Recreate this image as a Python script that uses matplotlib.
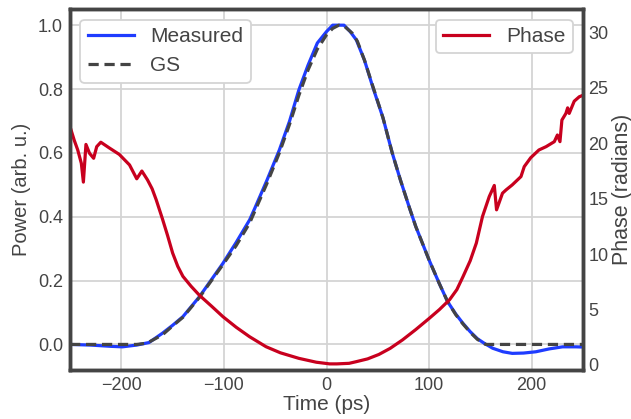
import matplotlib
matplotlib.use('Agg')
import matplotlib.pyplot as plt

# measured pulse power
time_meas = [-250, -230, -210, -199, -185, -173, -160, -150, -140, -124, -101, -88, -75, -70,
             -58, -46, -36, -27, -18, -9, 0, 6, 11, 17, 23, 29, 37, 45, 55, 64, 72, 81, 87,
             100, 110, 118, 126, 133, 140, 147, 154, 162, 172, 181, 192, 204, 217, 230, 243, 248]
power_meas = [0.0, -0.002, -0.006, -0.0075, -0.002, 0.006, 0.035, 0.06, 0.087, 0.149, 0.254, 0.32,
              0.39, 0.426, 0.515, 0.609, 0.70, 0.797, 0.875, 0.944, 0.98, 1.0, 1.0, 1.0, 0.98,
              0.954, 0.89, 0.807, 0.71, 0.60, 0.515, 0.426, 0.369, 0.264, 0.19, 0.134, 0.095,
              0.066, 0.04, 0.018, 0.003, -0.012, -0.023, -0.028, -0.027, -0.023, -0.014,
              -0.0075, -0.0075, -0.008]

# GS retrieval
time_gs = [-250, -185, -175, -160, -150, -140, -124, -101, -88, -75, -58, -46, -36, -27, -18,
           -9, 0, 6, 12, 18, 25, 30, 37, 45, 55, 64, 72, 81, 87, 100, 110, 118, 126, 133, 140,
           147, 155, 250]
power_gs = [0.0, 0.0, 0.004, 0.03, 0.058, 0.085, 0.147, 0.25, 0.31, 0.38, 0.505, 0.60, 0.69,
            0.78, 0.86, 0.925, 0.97, 0.99, 1.0, 0.995, 0.975, 0.95, 0.89, 0.81, 0.71, 0.60,
            0.515, 0.426, 0.369, 0.264, 0.19, 0.134, 0.093, 0.064, 0.038, 0.016, 0.0, 0.0]

# phase
time_phase = [-249, -246, -242.5, -239, -237, -234.5, -231, -227, -224, -220, -212, -202, -192,
              -185, -180, -174.5, -170, -166, -160, -155, -150, -145, -140, -132, -124, -112,
              -101, -88, -75, -59, -45, -27, -10, 3, 10, 22, 29, 40, 51, 62, 74, 87, 100, 110,
              120, 127, 133, 140, 146, 152, 158.6, 163.5, 165.7, 171.5, 175, 181, 189.5,
              192.7, 199, 207, 214, 222, 225, 227.5, 229.4, 233.3, 235, 236.5, 241.4, 246.3, 249]
phase = [21.2, 20.3, 19.4, 18.2, 16.5, 19.9, 19.1, 18.65, 19.7, 20.1, 19.6, 19.0, 18.05, 16.8,
         17.5, 16.7, 15.9, 14.9, 13.2, 11.7, 10.1, 8.9, 8.0, 7.1, 6.3, 5.3, 4.36, 3.4, 2.55, 1.65,
         1.1, 0.6, 0.25, 0.1, 0.1, 0.15, 0.3, 0.55, 0.95, 1.5, 2.26, 3.2, 4.2, 5.0, 5.9, 6.8,
         7.97, 9.4, 11.0, 13.4, 15.2, 16.2, 14.0, 15.5, 15.8, 16.25, 17.0, 17.9, 18.7,
         19.4, 19.7, 20.15, 20.75, 20.15, 22.1, 22.7, 23.2, 22.7, 23.8, 24.2, 24.3]

txt = '#444444'
plt.rcParams['font.family'] = ['Liberation Sans', 'DejaVu Sans']
plt.rcParams['text.color'] = txt
plt.rcParams['axes.labelcolor'] = txt
plt.rcParams['xtick.color'] = txt
plt.rcParams['ytick.color'] = txt

fig = plt.figure(figsize=(6.31, 4.19), dpi=100)
ax = fig.add_axes([0.111, 0.117, 0.813, 0.861])

ax.plot(time_meas, power_meas, color='#1f3cff', lw=2.3, label='Measured', zorder=3)
ax.plot(time_gs, power_gs, color='#444444', lw=2.3, ls=(0, (3.2, 1.8)), label='GS', zorder=4)
ax.set_xlim(-250, 250)
ax.set_ylim(-0.08, 1.05)
ax.set_xticks([-200, -100, 0, 100, 200])
ax.set_yticks([0.0, 0.2, 0.4, 0.6, 0.8, 1.0])
ax.set_xlabel('Time (ps)', fontsize=15, labelpad=1)
ax.set_ylabel('Power (arb. u.)', fontsize=14.5, labelpad=5)
ax.grid(True, color='#d4d4d4', lw=1.3)
ax.set_axisbelow(True)
ax.tick_params(length=0, labelsize=13, pad=5)
for s in ax.spines.values():
    s.set_color('#444444')
    s.set_linewidth(2.5)
leg = ax.legend(loc='upper left', fontsize=15, frameon=True, fancybox=True,
                borderpad=0.35, handlelength=2.2, framealpha=1)
leg.get_frame().set_edgecolor('#d4d4d4')
leg.get_frame().set_linewidth(1.3)

ax2 = ax.twinx()
ax2.plot(time_phase, phase, color='#c8001e', lw=2.3, label='Phase')
ax2.set_ylim(-0.45, 32.1)
ax2.set_yticks([0, 5, 10, 15, 20, 25, 30])
ax2.set_ylabel('Phase (radians)', fontsize=15.5, labelpad=2)
ax2.tick_params(length=0, labelsize=13, pad=4)
for s in ax2.spines.values():
    s.set_color('#444444')
    s.set_linewidth(2.5)
leg2 = ax2.legend(loc='upper right', fontsize=15, frameon=True, fancybox=True,
                  borderpad=0.35, handlelength=2.2, framealpha=1)
leg2.get_frame().set_edgecolor('#d4d4d4')
leg2.get_frame().set_linewidth(1.3)

fig.savefig('out.png', dpi=100)
